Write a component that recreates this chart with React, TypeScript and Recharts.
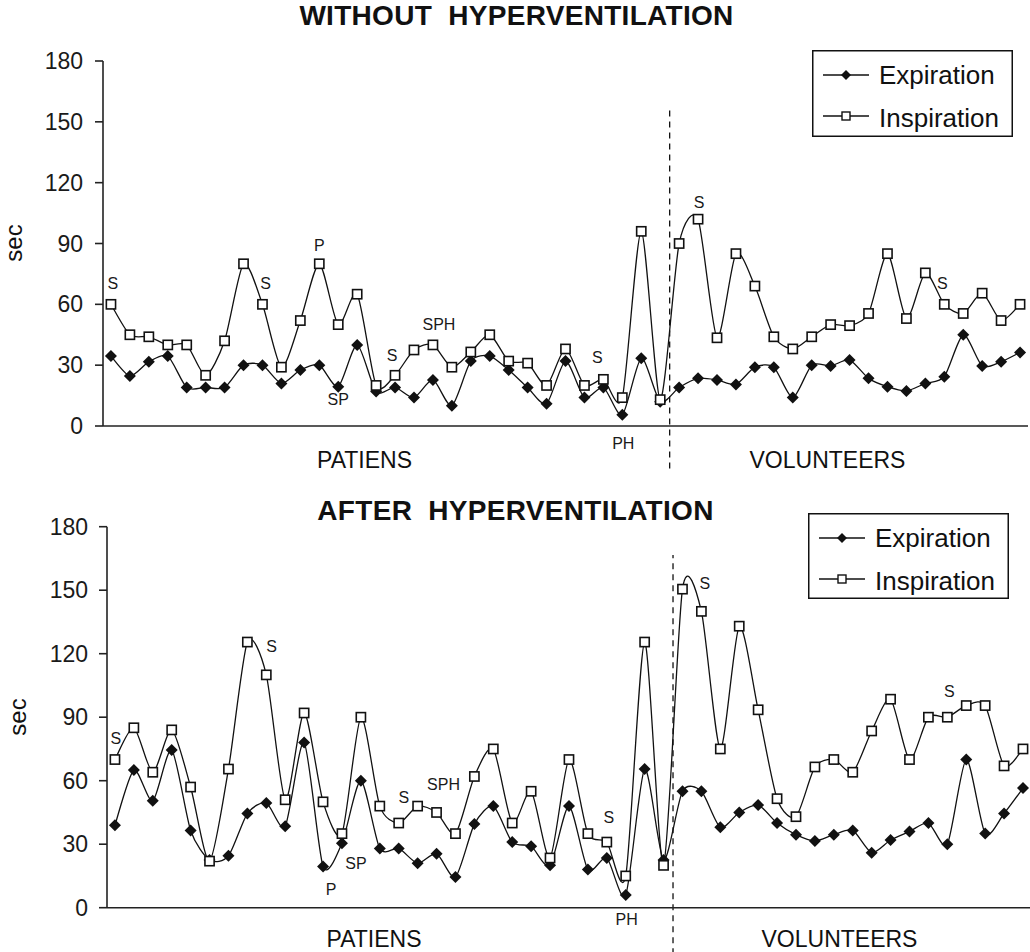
import React from 'react';
import { LineChart, Line, XAxis, YAxis, ReferenceLine, ReferenceDot, Legend } from 'recharts';

// ---------- data ----------
const patientCount = 30; // first 30 subjects are patients, the rest volunteers
const yTicks = [0, 30, 60, 90, 120, 150, 180];

const topExpiration = [34.5, 24.7, 31.7, 34.5, 19, 19, 19, 30, 30, 21, 27.6, 30, 19.4, 40, 17, 19, 14, 22.7, 10, 32, 34.5, 27.6, 19, 11, 32, 14, 19, 5.5, 33.4, 12, 19, 23.5, 22.7, 20.5, 29, 29, 14, 30, 29.6, 32.5, 23.5, 19.4, 17.3, 21, 24.3, 45, 29.6, 31.7, 36.3];
const topInspiration = [60, 45, 44, 40, 40, 25, 42, 80, 60, 29, 52, 80, 50, 65, 20, 25, 37.5, 40, 29, 36.5, 45, 32, 31, 20, 38, 20, 23, 14, 96, 13, 90, 102, 43.5, 85, 69, 44, 38, 44, 50, 49.5, 55.5, 85, 53, 75.5, 60, 55.5, 65.5, 52, 60];

const bottomExpiration = [39, 65, 50.5, 74.5, 36.5, 22.5, 24.5, 44.5, 49.5, 38.5, 78, 19.5, 30.5, 60, 28, 28, 21, 25.5, 14.5, 39.5, 48, 31, 29, 20, 48, 18, 23.5, 6, 65.5, 22.5, 55, 55, 38, 45, 48.5, 40, 34.5, 31.5, 34.5, 36.5, 26, 32, 36, 40, 30, 70, 35, 44.5, 56.5];
const bottomInspiration = [70, 85, 64, 84, 57, 22, 65.5, 125.5, 110, 51, 92, 50, 35, 90, 48, 40, 48, 45, 35, 62, 75, 40, 55, 23.5, 70, 35, 31, 15, 125.5, 20, 150.5, 140, 75, 133, 93.5, 51.5, 43, 66.5, 70, 64, 83.5, 98.5, 70, 90, 90, 95.5, 95.5, 67, 75];

// annotations: which point carries which letter code (placement hints for the label)
const topNotes = [
  { series: 'insp', i: 0, text: 'S', pos: 'top', off: 15, dx: 2 },
  { series: 'insp', i: 8, text: 'S', pos: 'top', off: 15, dx: 3 },
  { series: 'insp', i: 11, text: 'P', pos: 'top', off: 13, dx: 0 },
  { series: 'exp', i: 12, text: 'SP', pos: 'bottom', off: 7, dx: 0 },
  { series: 'insp', i: 15, text: 'S', pos: 'top', off: 14, dx: -3 },
  { series: 'insp', i: 17, text: 'SPH', pos: 'top', off: 15, dx: 6 },
  { series: 'insp', i: 26, text: 'S', pos: 'top', off: 16, dx: -6 },
  { series: 'exp', i: 27, text: 'PH', pos: 'bottom', off: 23, dx: 1 },
  { series: 'insp', i: 31, text: 'S', pos: 'top', off: 11, dx: 1 },
  { series: 'insp', i: 44, text: 'S', pos: 'top', off: 15, dx: -2 },
];
const bottomNotes = [
  { series: 'insp', i: 0, text: 'S', pos: 'top', off: 16, dx: 1 },
  { series: 'insp', i: 7, text: 'S', pos: 'right', off: 19, dx: 0, dy: 4 },
  { series: 'exp', i: 11, text: 'P', pos: 'bottom', off: 17, dx: 8 },
  { series: 'exp', i: 12, text: 'SP', pos: 'bottom', off: 14, dx: 14 },
  { series: 'insp', i: 15, text: 'S', pos: 'top', off: 20, dx: 5 },
  { series: 'insp', i: 17, text: 'SPH', pos: 'top', off: 22, dx: 7 },
  { series: 'insp', i: 26, text: 'S', pos: 'top', off: 19, dx: 2 },
  { series: 'exp', i: 27, text: 'PH', pos: 'bottom', off: 19, dx: 1 },
  { series: 'insp', i: 30, text: 'S', pos: 'right', off: 17, dx: 0, dy: -6 },
  { series: 'insp', i: 44, text: 'S', pos: 'top', off: 20, dx: 2 },
];

const buildTable = (exp: number[], insp: number[]) =>
  exp.map((v, i) => ({ idx: i, exp: v, insp: insp[i] }));

const topData = buildTable(topExpiration, topInspiration);
const bottomData = buildTable(bottomExpiration, bottomInspiration);

// ---------- styling helpers ----------
const FONT = "'Liberation Sans', Arial, Helvetica, sans-serif";
const INK = '#111';

// Excel-like smoothed line (softened Catmull-Rom through every point)
const SMOOTH = 1 / 8;
const excelSmooth = (context: any) => {
  let pts: number[][] = [];
  return {
    areaStart() {},
    areaEnd() {},
    lineStart() {
      pts = [];
    },
    point(x: number, y: number) {
      pts.push([+x, +y]);
    },
    lineEnd() {
      const n = pts.length;
      if (!n) return;
      context.moveTo(pts[0][0], pts[0][1]);
      for (let i = 0; i < n - 1; i++) {
        const p0 = pts[i > 0 ? i - 1 : i];
        const p1 = pts[i];
        const p2 = pts[i + 1];
        const p3 = pts[i + 2 < n ? i + 2 : i + 1];
        context.bezierCurveTo(
          p1[0] + (p2[0] - p0[0]) * SMOOTH,
          p1[1] + (p2[1] - p0[1]) * SMOOTH,
          p2[0] - (p3[0] - p1[0]) * SMOOTH,
          p2[1] - (p3[1] - p1[1]) * SMOOTH,
          p2[0],
          p2[1]
        );
      }
    },
  };
};

const diamondPath = (cx: number, cy: number, r: number) =>
  `M${cx},${cy - r}L${cx + r},${cy}L${cx},${cy + r}L${cx - r},${cy}Z`;

const DiamondDot = (p: any) => {
  const { cx, cy, index } = p;
  if (cx == null || cy == null) return <g key={`e-${index}`} />;
  return <path key={`e-${index}`} d={diamondPath(cx, cy, 6)} fill={INK} />;
};

const SquareDot = (p: any) => {
  const { cx, cy, index } = p;
  if (cx == null || cy == null) return <g key={`s-${index}`} />;
  return (
    <rect key={`s-${index}`} x={cx - 4.6} y={cy - 4.6} width={9.2} height={9.2} fill="#fff" stroke={INK} strokeWidth={1.6} />
  );
};

const LegendBox = ({ h }: { h: number }) => (
  <svg width={201} height={h} style={{ display: 'block' }}>
    <rect x={0.75} y={0.75} width={199.5} height={h - 1.5} fill="#fff" stroke={INK} strokeWidth={1.5} />
    <line x1={11} x2={57} y1={25} y2={25} stroke={INK} strokeWidth={1.3} />
    <path d={diamondPath(34, 25, 5)} fill={INK} />
    <text x={67} y={34} fontSize={26} fontFamily={FONT} fill={INK}>Expiration</text>
    <line x1={11} x2={57} y1={66} y2={66} stroke={INK} strokeWidth={1.3} />
    <rect x={30} y={62} width={8} height={8} fill="#fff" stroke={INK} strokeWidth={1.4} />
    <text x={67} y={77} fontSize={26} fontFamily={FONT} fill={INK}>Inspiration</text>
  </svg>
);

type PanelProps = {
  data: { idx: number; exp: number; insp: number }[];
  exp: number[];
  insp: number[];
  notes: any[];
  margin: { top: number; right: number; bottom: number; left: number };
  yWidth: number;
  xDomain: [number, number];
  dashSpan: [number, number];
  tickMargin: number;
  legendPos: { left: number; top: number; h: number };
};

const Panel = ({ data, exp, insp, notes, margin, yWidth, xDomain, dashSpan, tickMargin, legendPos }: PanelProps) => (
  <LineChart width={1030} height={476} data={data} margin={margin}>
    <XAxis
      type="number"
      dataKey="idx"
      domain={xDomain}
      allowDataOverflow
      tick={false}
      tickLine={false}
      height={1}
      axisLine={{ stroke: '#222', strokeWidth: 1.6 }}
    />
    <YAxis
      type="number"
      domain={[0, 180]}
      ticks={yTicks}
      interval={0}
      width={yWidth}
      tickSize={8}
      tickMargin={tickMargin}
      axisLine={{ stroke: '#222', strokeWidth: 1.6 }}
      tickLine={{ stroke: '#222', strokeWidth: 1.6 }}
      tick={{ fontSize: 23, fill: '#1a1a1a', fontFamily: FONT }}
    />
    <Legend
      layout="horizontal"
      verticalAlign="middle"
      align="center"
      wrapperStyle={{ left: legendPos.left, top: legendPos.top, width: 201, height: legendPos.h }}
      content={() => <LegendBox h={legendPos.h} />}
    />
    <ReferenceLine
      segment={[
        { x: patientCount - 0.5, y: dashSpan[0] },
        { x: patientCount - 0.5, y: dashSpan[1] },
      ]}
      stroke={INK}
      strokeWidth={1.3}
      strokeDasharray="6 5"
      ifOverflow="visible"
    />
    <Line
      dataKey="exp"
      name="Expiration"
      type={excelSmooth as any}
      stroke={INK}
      strokeWidth={1.3}
      dot={DiamondDot}
      activeDot={false}
      isAnimationActive={false}
    />
    <Line
      dataKey="insp"
      name="Inspiration"
      type={excelSmooth as any}
      stroke={INK}
      strokeWidth={1.3}
      dot={SquareDot}
      activeDot={false}
      isAnimationActive={false}
    />
    {notes.map((n, k) => (
      <ReferenceDot
        key={`note-${k}`}
        x={n.i}
        y={n.series === 'exp' ? exp[n.i] : insp[n.i]}
        r={0}
        fill="none"
        stroke="none"
        ifOverflow="visible"
        label={{
          value: n.text,
          position: n.pos,
          offset: n.off,
          dx: n.dx || 0,
          dy: n.dy || 0,
          fontSize: 16,
          fill: '#1a1a1a',
          fontFamily: FONT,
        }}
      />
    ))}
  </LineChart>
);

export default function App() {
  const textStyle = { fontFamily: FONT, fill: INK } as const;
  return (
    <div style={{ position: 'absolute', left: 0, top: 0, width: 1030, height: 952, background: '#fff', overflow: 'hidden' }}>
      <div style={{ position: 'absolute', left: 0, top: 0 }}>
        <Panel
          data={topData}
          exp={topExpiration}
          insp={topInspiration}
          notes={topNotes}
          margin={{ top: 61, right: 2, bottom: 49, left: 0 }}
          yWidth={103}
          xDomain={[-0.42, 48.42]}
          dashSpan={[-21, 156]}
          tickMargin={12}
          legendPos={{ left: 812, top: 50, h: 87 }}
        />
      </div>
      <div style={{ position: 'absolute', left: 0, top: 476 }}>
        <Panel
          data={bottomData}
          exp={bottomExpiration}
          insp={bottomInspiration}
          notes={bottomNotes}
          margin={{ top: 50.7, right: 0, bottom: 43.3, left: 0 }}
          yWidth={107}
          xDomain={[-0.42, 48.37]}
          dashSpan={[-22, 166.6]}
          tickMargin={11}
          legendPos={{ left: 808, top: 37, h: 86 }}
        />
      </div>
      <svg width={1030} height={952} style={{ position: 'absolute', left: 0, top: 0, pointerEvents: 'none' }}>
        <text x={516.5} y={25} textAnchor="middle" fontSize={28} fontWeight="bold" letterSpacing={0.3} style={{ whiteSpace: 'pre' }} {...textStyle}>
          {'WITHOUT  HYPERVENTILATION'}
        </text>
        <text x={515.5} y={520} textAnchor="middle" fontSize={28} fontWeight="bold" letterSpacing={0.3} style={{ whiteSpace: 'pre' }} {...textStyle}>
          {'AFTER  HYPERVENTILATION'}
        </text>
        <text transform="translate(22,243) rotate(-90)" textAnchor="middle" fontSize={24} {...textStyle}>sec</text>
        <text transform="translate(26,717) rotate(-90)" textAnchor="middle" fontSize={24} {...textStyle}>sec</text>
        <text x={364.5} y={468} textAnchor="middle" fontSize={23} {...textStyle}>PATIENS</text>
        <text x={827.5} y={468} textAnchor="middle" fontSize={23} {...textStyle}>VOLUNTEERS</text>
        <text x={374} y={947} textAnchor="middle" fontSize={23} {...textStyle}>PATIENS</text>
        <text x={839.5} y={947} textAnchor="middle" fontSize={23} {...textStyle}>VOLUNTEERS</text>
      </svg>
    </div>
  );
}
